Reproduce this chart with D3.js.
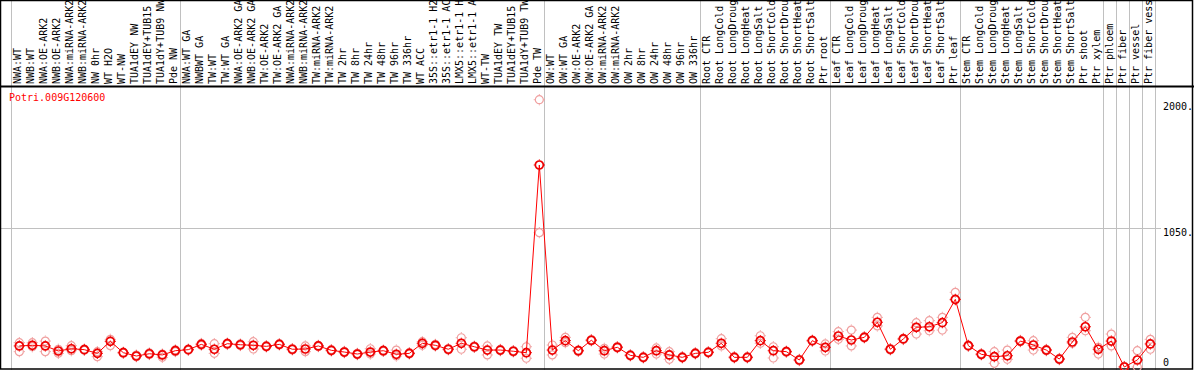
<!DOCTYPE html>
<html><head><meta charset="utf-8">
<script src="https://cdn.jsdelivr.net/npm/d3@7"></script>
<style>
html,body{margin:0;padding:0;background:#fff;}
svg{display:block;}
text{font-family:"DejaVu Sans Mono",monospace;font-size:10px;}
</style></head>
<body>
<svg id="chart" width="1194" height="370"></svg>
<script>
const geneId = "Potri.009G120600";
const labels = ["NWA:WT","NWB:WT","NWA:OE-ARK2","NWB:OE-ARK2","NWA:miRNA-ARK2","NWB:miRNA-ARK2","NW 0hr","WT H2O","WT-NW","TUA1dEY NW","TUA1dEY+TUB15","TUA1dY+TUB9 NW","Pde NW",
"NWA:WT GA","NWBWT GA","TW:WT","TW:WT GA","NWA:OE-ARK2 GA","NWB:OE-ARK2 GA","TW:OE-ARK2","TW:OE-ARK2 GA","NWA:miRNA-ARK2","NWB:miRNA-ARK2","TW:miRNA-ARK2","TW:miRNA-ARK2","TW 2hr","TW 8hr","TW 24hr","TW 48hr","TW 96hr","TW 336hr","WT ACC","35S::etr1-1 H2O","35S::etr1-1 ACC","LMX5::etr1-1 H2O","LMX5::etr1-1 ACC","WT-TW","TUA1dEY TW","TUA1dEY+TUB15","TUA1dY+TUB9 TW","Pde TW",
"OW:WT","OW:WT GA","OW:OE-ARK2","OW:OE-ARK2 GA","OW:miRNA-ARK2","OW:miRNA-ARK2","OW 2hr","OW 8hr","OW 24hr","OW 48hr","OW 96hr","OW 336hr",
"Root CTR","Root LongCold","Root LongDrought","Root LongHeat","Root LongSalt","Root ShortCold","Root ShortDrought","Root ShortHeat","Root ShortSalt","Ptr root",
"Leaf CTR","Leaf LongCold","Leaf LongDrought","Leaf LongHeat","Leaf LongSalt","Leaf ShortCold","Leaf ShortDrought","Leaf ShortHeat","Leaf ShortSalt","Ptr leaf",
"Stem CTR","Stem LongCold","Stem LongDrought","Stem LongHeat","Stem LongSalt","Stem ShortCold","Stem ShortDrought","Stem ShortHeat","Stem ShortSalt","Ptr shoot","Ptr xylem",
"Ptr phloem","Ptr fiber","Ptr vessel","Ptr fiber vessel"];
// indices after which a group separator line is drawn
const groupEnds = [12, 40, 52, 62, 72, 83, 84, 85, 86, 87];
const means = [159,164,159,121,138,131,103,194,108,83,100,91,123,
131,171,134,176,168,164,156,171,134,136,159,126,113,98,113,123,96,103,179,164,134,179,153,128,128,119,108,1526,
128,199,123,202,123,149,88,73,123,91,73,103,
111,179,73,73,199,123,116,53,199,149,
234,204,224,338,134,212,300,304,335,511,
161,96,78,85,196,166,128,60,189,304,134,
196,0,53,174];
const repHi = [184,184,196,134,161,136,116,209,112,90,106,98,130,
136,178,176,181,174,191,161,176,139,159,164,131,118,103,138,128,128,108,191,171,139,221,158,159,133,124,153,2019,
166,224,128,207,141,154,93,78,144,116,78,108,
116,214,78,78,236,153,121,58,204,174,
267,279,229,375,139,217,335,350,375,564,
166,101,116,128,201,199,133,65,224,375,149,
249,4,123,209];
const repLo = [116,153,116,103,123,126,78,161,104,78,94,73,116,
126,164,103,170,162,136,151,166,129,116,154,121,108,93,98,118,83,98,164,158,129,134,148,91,123,114,66,1015,
91,184,118,197,98,144,83,68,98,58,68,98,
106,159,68,68,179,68,111,48,194,121,
209,159,219,310,129,207,249,274,279,506,
156,91,28,58,191,128,123,55,179,274,98,
159,0,0,134];
const yTickValues = [2000, 1050, 0];
const yTickLabels = ["2000.", "1050.", "0"];
const yGridValues = [1050];

const svg = d3.select("#chart");
const W = 1194, H = 370;
const headerBottom = 86;
const x = d3.scaleBand().domain(d3.range(labels.length)).range([11, 1155]).padding(0);
const bw = x.bandwidth();
const px = i => x(i) + bw * 0.64;
const y = d3.scaleLinear().domain([0, 2100]).range([367, 89]);

svg.append("rect").attr("x",0).attr("y",0).attr("width",W).attr("height",H).attr("fill","#fff");

// vertical group separators
const sepX = [x(0)].concat(groupEnds.map(i => x(i) + bw));
svg.append("g").selectAll("line").data(sepX).join("line")
  .attr("x1", d => d + 0.5).attr("x2", d => d + 0.5).attr("y1", 0).attr("y2", H)
  .attr("stroke", "#c0c0c0").attr("stroke-width", 1);

// horizontal grid
svg.append("g").selectAll("line").data(yGridValues).join("line")
  .attr("x1", 0).attr("x2", 1161).attr("y1", d => Math.round(y(d))+0.5).attr("y2", d => Math.round(y(d))+0.5)
  .attr("stroke", "#c0c0c0").attr("stroke-width", 1);

// header labels
svg.append("g").selectAll("text").data(labels).join("text")
  .attr("transform", (d,i) => `translate(${x(i) + 10},84) rotate(-90)`)
  .attr("text-anchor","start").attr("fill","#000").text(d => d);

// header line & frame
svg.append("line").attr("x1",0).attr("x2",W).attr("y1",headerBottom+0.5).attr("y2",headerBottom+0.5)
  .attr("stroke","#000").attr("stroke-width",2);
svg.append("rect").attr("x",0.5).attr("y",0.5).attr("width",1192).attr("height",368.5)
  .attr("fill","none").attr("stroke","#000").attr("stroke-width",1.5);

// y labels
svg.append("g").selectAll("text").data(yTickValues).join("text")
  .attr("x", 1163).attr("y", (d,i) => d === 0 ? y(d) - 1 : y(d) + 8)
  .attr("fill","#000").text((d,i) => yTickLabels[i]);

// title
svg.append("text").attr("x", 9).attr("y", 101).attr("fill","#ff0000").text(geneId);

function marker(g, cx, cy, color, sw) {
  const m = g.append("g").attr("transform", `translate(${cx},${cy})`);
  m.append("circle").attr("r", 4).attr("fill","none").attr("stroke", color).attr("stroke-width", sw);
  [[0,-1],[0,1],[-1,0],[1,0]].forEach(([dx,dy]) => {
    m.append("line").attr("x1", dx*4.5).attr("y1", dy*4.5).attr("x2", dx*5.6).attr("y2", dy*5.6)
      .attr("stroke", color).attr("stroke-width", 1);
  });
}

const repG = svg.append("g");
means.forEach((m, i) => {
  marker(repG, px(i), y(repHi[i]), "#f0a0a0", 1.2);
  marker(repG, px(i), y(repLo[i]), "#f0a0a0", 1.2);
});

const line = d3.line().x((d,i) => px(i)).y(d => y(d));
svg.append("path").datum(means).attr("d", line).attr("fill","none").attr("stroke","#ff0000").attr("stroke-width",1);

const meanG = svg.append("g");
means.forEach((m, i) => marker(meanG, px(i), y(m), "#ee0000", 1.7));
</script>
</body></html>
